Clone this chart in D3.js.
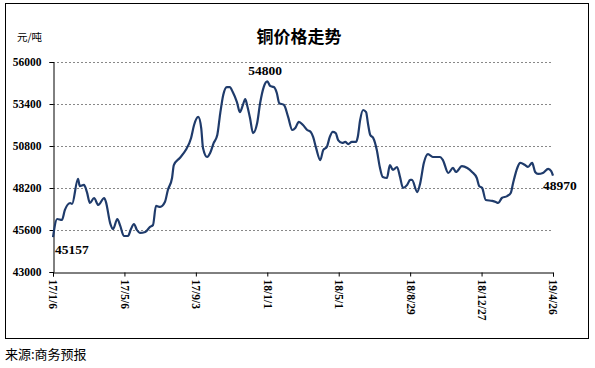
<!DOCTYPE html>
<html><head><meta charset="utf-8">
<script src="https://cdn.jsdelivr.net/npm/d3@7"></script>
<style>body{margin:0;background:#fff}svg{display:block}</style>
</head><body>
<script>
const title = "铜价格走势";
const unitLabel = "元/吨";
const sourceLabel = "来源:商务预报";
const yTicks = [43000, 45600, 48200, 50800, 53400, 56000];
const xTickDates = ["2017-01-06","2017-05-06","2017-09-03","2018-01-01","2018-05-01","2018-08-29","2018-12-27","2019-04-26"];
const xTickLabels = ["17/1/6","17/5/6","17/9/3","18/1/1","18/5/1","18/8/29","18/12/27","19/4/26"];
const dates = ["2017-01-06","2017-01-13","2017-01-21","2017-01-26","2017-02-04","2017-02-07","2017-02-17","2017-02-20","2017-02-27","2017-03-04",
"2017-03-09","2017-03-16","2017-03-23","2017-04-02","2017-04-05","2017-04-12","2017-04-17","2017-04-24","2017-04-29","2017-05-05",
"2017-05-12","2017-05-17","2017-05-22","2017-05-27","2017-06-01","2017-06-10","2017-06-18","2017-06-23","2017-06-28","2017-07-05",
"2017-07-13","2017-07-18","2017-07-25","2017-07-28","2017-08-07","2017-08-17","2017-08-26","2017-08-31","2017-09-07","2017-09-12",
"2017-09-15","2017-09-22","2017-09-27","2017-10-03","2017-10-09","2017-10-14","2017-10-19","2017-10-25","2017-10-30","2017-11-04",
"2017-11-11","2017-11-16","2017-11-21","2017-11-25","2017-11-28","2017-12-03","2017-12-08","2017-12-15","2017-12-20","2017-12-26",
"2018-01-01","2018-01-06","2018-01-12","2018-01-17","2018-01-21","2018-01-29","2018-02-05","2018-02-12","2018-02-17","2018-02-23",
"2018-03-02","2018-03-09","2018-03-15","2018-03-19","2018-03-24","2018-03-31","2018-04-05","2018-04-11","2018-04-16","2018-04-21",
"2018-04-26","2018-04-30","2018-05-07","2018-05-12","2018-05-17","2018-05-23","2018-05-30","2018-06-02","2018-06-06","2018-06-11",
"2018-06-16","2018-06-19","2018-06-23","2018-06-28","2018-07-04","2018-07-09","2018-07-14","2018-07-21","2018-07-26","2018-07-31",
"2018-08-07","2018-08-12","2018-08-17","2018-08-24","2018-08-29","2018-09-01","2018-09-10","2018-09-15","2018-09-21","2018-09-28",
"2018-10-06","2018-10-18","2018-10-23","2018-11-01","2018-11-09","2018-11-14","2018-11-24","2018-12-03","2018-12-11","2018-12-19",
"2018-12-23","2018-12-28","2019-01-03","2019-01-14","2019-01-20","2019-01-24","2019-01-30","2019-02-08","2019-02-14","2019-02-18",
"2019-02-25","2019-03-02","2019-03-10","2019-03-15","2019-03-22","2019-03-27","2019-04-01","2019-04-09","2019-04-18","2019-04-23",
"2019-04-26"];
const prices = [45157,46280,46220,46840,47270,47210,48760,48320,48390,47950,
47270,47580,47150,47580,47330,46030,45660,46280,45850,45230,
45230,45660,45970,45600,45420,45480,45790,45910,47090,47030,
47330,48080,48820,49620,50060,50550,51300,52100,52600,51910,
50680,50120,50370,50990,51480,52840,53960,54450,54450,54140,
53520,52900,53340,53710,53340,52530,51600,52220,53460,54450,
54800,54510,54450,54080,53460,53340,52600,51790,51910,52290,
52100,51790,51670,51360,50680,49930,50550,50740,51360,51670,
51600,51170,50990,51050,50920,51050,51050,51360,52410,53030,
52900,52220,51480,51300,50550,49500,48880,48820,49620,49320,
49500,48880,48200,48390,48700,48700,47950,48510,49750,50300,
50120,50120,49930,49130,49440,49190,49560,49440,49190,48820,
48320,48200,47460,47400,47330,47270,47580,47700,47890,48510,
49440,49750,49620,49500,49750,49190,49070,49130,49380,49250,
48970];
const annotations = [
  {date:"2017-01-06", value:45157, dx:2, dy:14, anchor:"start"},
  {date:"2018-01-01", value:54800, dx:-19, dy:-9, anchor:"start"},
  {date:"2019-04-26", value:48970, dx:-10, dy:11, anchor:"start"}
];

const W = 595, H = 368;
const parse = d3.timeParse("%Y-%m-%d");
const data = dates.map((d,i)=>({date:parse(d), value:prices[i]}));
const svg = d3.select("body").append("svg").attr("width",W).attr("height",H);
svg.append("rect").attr("width",W).attr("height",H).attr("fill","#fff");
svg.append("rect").attr("x",5.5).attr("y",3.5).attr("width",583).attr("height",335)
  .attr("fill","none").attr("stroke","#000").attr("stroke-width",1);

const pL=53, pR=553, pT=62, pB=272;
const x = d3.scaleTime().domain([parse(xTickDates[0]), parse(xTickDates[xTickDates.length-1])]).range([pL,pR]);
const y = d3.scaleLinear().domain([43000,56000]).range([pB,pT]);

// grid
svg.append("g").selectAll("line").data(yTicks.slice(1)).join("line")
  .attr("x1",pL).attr("x2",pR).attr("y1",d=>Math.round(y(d))+0.5).attr("y2",d=>Math.round(y(d))+0.5)
  .attr("stroke","#888").attr("stroke-width",1).attr("stroke-dasharray","2,2");

const serif = "'Liberation Serif','Times New Roman',serif";
// y axis
const yAxis = d3.axisLeft(y).tickValues(yTicks).tickSize(4).tickFormat(d3.format("d"));
const gy = svg.append("g").attr("transform",`translate(${pL+0.5},0)`).call(yAxis);
gy.select(".domain").attr("stroke","#000");
gy.selectAll(".tick line").attr("stroke","#000");
gy.selectAll(".tick text").attr("x",-12).attr("font-family",serif).attr("font-weight","bold").attr("font-size",11.5).attr("fill","#000");

// x axis
const xAxis = d3.axisBottom(x).tickValues(xTickDates.map(parse)).tickSize(4)
  .tickFormat((d,i)=>xTickLabels[i]);
const gx = svg.append("g").attr("transform",`translate(0,${pB+0.5})`).call(xAxis);
gx.select(".domain").attr("stroke","#000");
gx.selectAll(".tick line").attr("stroke","#000");
gx.selectAll(".tick text").attr("font-family",serif).attr("font-weight","bold").attr("font-size",11.5).attr("fill","#000")
  .attr("text-anchor","start").attr("dy","0.35em").attr("y",0)
  .attr("transform","translate(0,7) rotate(90)");

// line
const line = d3.line().x(d=>x(d.date)).y(d=>y(d.value)).curve(d3.curveMonotoneX);
svg.append("path").datum(data).attr("d",line).attr("fill","none")
  .attr("stroke","#1f3b6b").attr("stroke-width",2.2).attr("stroke-linejoin","round");

// annotations
svg.append("g").selectAll("text").data(annotations).join("text")
  .attr("x",d=>x(parse(d.date))+d.dx).attr("y",d=>y(d.value)+d.dy)
  .attr("text-anchor",d=>d.anchor).attr("dominant-baseline","middle")
  .attr("font-family",serif).attr("font-weight","bold").attr("font-size",13.5).attr("fill","#000")
  .text(d=>d3.format("d")(d.value));

// title & labels
svg.append("text").attr("x",299).attr("y",38).attr("text-anchor","middle").attr("dominant-baseline","middle")
  .attr("font-family","'Noto Sans CJK SC',sans-serif").attr("font-weight","bold").attr("font-size",17).text(title);
svg.append("text").attr("x",17).attr("y",38).attr("dominant-baseline","middle")
  .attr("font-family","'Noto Sans CJK SC',sans-serif").attr("font-size",10.5).text(unitLabel);
svg.append("text").attr("x",5).attr("y",355).attr("dominant-baseline","middle")
  .attr("font-family","'Noto Sans CJK SC',sans-serif").attr("font-size",13).text(sourceLabel);
</script>
</body></html>
